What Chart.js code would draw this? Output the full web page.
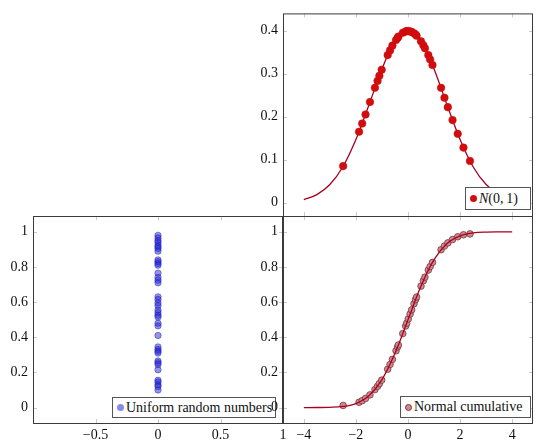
<!DOCTYPE html>
<html>
<head>
<meta charset="utf-8">
<script src="https://cdn.jsdelivr.net/npm/chart.js@4"></script>
<style>
  body { margin: 0; background: #fff; }
  #wrap { position: relative; width: 540px; height: 446px; }
  canvas { position: absolute; left: 0; top: 0; }
  .legend {
    position: absolute; background: #fff; border: 1px solid #555;
    font: 14px "Liberation Serif", serif; color: #111;
    display: flex; align-items: center; box-sizing: border-box;
    padding-left: 4px; white-space: nowrap;
  }
  .dot { display: inline-block; border-radius: 50%; margin-right: 2px; box-sizing: border-box; }
</style>
</head>
<body>
<div id="wrap">
  <canvas id="bl" width="540" height="446"></canvas>
  <div class="legend" style="left:112px;top:397px;width:164px;height:21px;">
    <span class="dot" style="width:7px;height:7px;background:rgba(40,40,210,0.55);"></span>Uniform random numbers
  </div>
  <canvas id="br" width="540" height="446"></canvas>
  <div class="legend" style="left:400px;top:396px;width:131px;height:22px;">
    <span class="dot" style="width:7px;height:7px;background:#d4868e;border:1px solid #6b3a3f;"></span>Normal cumulative
  </div>
  <canvas id="tr" width="540" height="446"></canvas>
  <div class="legend" style="left:465px;top:187px;width:66px;height:23px;">
    <span class="dot" style="width:7px;height:7px;background:#d30d0d;"></span><i>N</i>(0,&#8201;1)
  </div>
</div>
<script>
// random normal samples (x) and what is plotted for them
const sampleX = [-2.49, -1.88, -1.76, -1.63, -1.46, -1.27, -1.17, -1.10, -1.01, -0.78,
  -0.69, -0.60, -0.46, -0.40, -0.37, -0.20, -0.09, -0.05, 0.01, 0.08,
  0.14, 0.23, 0.29, 0.33, 0.50, 0.59, 0.65, 0.78, 0.85, 0.94,
  1.27, 1.40, 1.53, 1.71, 1.91, 2.13, 2.38];
const pdfY = [0.085, 0.165, 0.184, 0.205, 0.234, 0.267, 0.283, 0.295, 0.309, 0.343,
  0.354, 0.365, 0.378, 0.383, 0.386, 0.395, 0.398, 0.399, 0.399, 0.398,
  0.397, 0.394, 0.391, 0.388, 0.375, 0.366, 0.359, 0.343, 0.333, 0.320,
  0.267, 0.244, 0.222, 0.192, 0.160, 0.128, 0.097];
const cdfY = [0.012, 0.030, 0.039, 0.052, 0.072, 0.102, 0.121, 0.136, 0.156, 0.218,
  0.245, 0.274, 0.323, 0.345, 0.356, 0.421, 0.464, 0.480, 0.504, 0.532,
  0.556, 0.591, 0.614, 0.629, 0.691, 0.722, 0.742, 0.782, 0.802, 0.826,
  0.898, 0.919, 0.937, 0.956, 0.972, 0.983, 0.988];
const uniformY = [0.98, 0.965, 0.95, 0.94, 0.925, 0.915, 0.905, 0.89, 0.84, 0.83,
  0.82, 0.81, 0.765, 0.74, 0.725, 0.71, 0.63, 0.615, 0.595, 0.58,
  0.555, 0.54, 0.525, 0.515, 0.48, 0.465, 0.41, 0.345, 0.33, 0.32,
  0.31, 0.265, 0.255, 0.245, 0.215, 0.155, 0.145, 0.13, 0.12, 0.1];

// smooth curves
const curveX = [-4, -3.5, -3, -2.5, -2, -1.5, -1, -0.5, 0, 0.5, 1, 1.5, 2, 2.5, 3, 3.5, 4];
const pdfCurve = [0.0073, 0.0187, 0.0421, 0.0836, 0.1468, 0.2271, 0.3107, 0.3765, 0.399,
  0.3765, 0.3107, 0.2271, 0.1468, 0.0836, 0.0421, 0.0187, 0.0073];
const cdfCurve = [0, 0.0002, 0.0013, 0.0062, 0.0228, 0.0668, 0.1587, 0.3085, 0.5,
  0.6915, 0.8413, 0.9332, 0.9772, 0.9938, 0.9987, 0.9998, 1];

// tick labels
const topYTicks = [0, 0.1, 0.2, 0.3, 0.4];
const bottomYTicks = [0, 0.2, 0.4, 0.6, 0.8, 1];
const leftXTicks = [-0.5, 0, 0.5, 1];
const rightXTicks = [-4, -2, 0, 2, 4];

const font = { family: '"Liberation Serif", serif', size: 14 };
const fmt = (v) => {
  const s = String(Number(v.toFixed(2)));
  return v < 0 ? "\u2212" + s.slice(1) : s;
};

// pgfplots-like frame with small inward ticks on every side
const framePlugin = {
  id: "frame",
  beforeDatasetsDraw(chart) {
    const { ctx, chartArea: a } = chart;
    const xs = chart.scales.x, ys = chart.scales.y;
    ctx.save();
    ctx.strokeStyle = "#bdbdbd";
    ctx.lineWidth = 0.8;
    ctx.beginPath();
    xs.ticks.forEach((t) => {
      const p = Math.round(xs.getPixelForValue(t.value)) + 0.5;
      ctx.moveTo(p, a.bottom); ctx.lineTo(p, a.bottom - 4);
      ctx.moveTo(p, a.top); ctx.lineTo(p, a.top + 4);
    });
    ys.ticks.forEach((t) => {
      const p = Math.round(ys.getPixelForValue(t.value)) + 0.5;
      ctx.moveTo(a.left, p); ctx.lineTo(a.left + 4, p);
      ctx.moveTo(a.right, p); ctx.lineTo(a.right - 4, p);
    });
    ctx.stroke();
    ctx.restore();
  },
  afterDraw(chart) {
    const { ctx, chartArea: a } = chart;
    ctx.save();
    ctx.strokeStyle = "#3a3a3a";
    ctx.lineWidth = 1;
    ctx.strokeRect(a.left + 0.5, a.top + 0.5, a.width - 1, a.height);
    ctx.restore();
  },
};

function axis(min, max, ticks, kind, showLabels) {
  return {
    type: "linear",
    min, max,
    grid: { display: false, drawTicks: false },
    border: { display: false },
    ticks: { display: showLabels, font, color: "#111", padding: kind === "y" ? 5 : 4, callback: fmt, maxRotation: 0 },
    afterBuildTicks: (s) => { s.ticks = ticks.map((v) => ({ value: v })); },
    afterFit: (s) => {
      if (kind === "y") s.width = 30;
      else s.height = showLabels ? 20 : 0;
    },
  };
}

function makeChart(id, padding, x, y, datasets) {
  return new Chart(document.getElementById(id), {
    type: "scatter",
    data: { datasets },
    options: {
      responsive: false,
      animation: false,
      layout: { padding },
      plugins: { legend: { display: false }, tooltip: { enabled: false } },
      scales: { x, y },
    },
    plugins: [framePlugin],
  });
}

const pts = (xs, ys) => xs.map((x, i) => ({ x, y: ys[i] }));

// bottom left: uniform numbers all at x = 0
makeChart("bl", { left: 3, top: 216, right: 257, bottom: 3 },
  axis(-1, 1, leftXTicks, "x", true),
  axis(-0.088, 1.09, bottomYTicks, "y", true),
  [{
    data: uniformY.map((u) => ({ x: 0, y: u })),
    pointRadius: 3.2,
    backgroundColor: "rgba(40,40,210,0.5)",
    borderColor: "rgba(20,20,190,0.55)",
    borderWidth: 0.8,
  }]);

// bottom right: normal cumulative
makeChart("br", { left: 253, top: 216, right: 7, bottom: 3 },
  axis(-4.8, 4.8, rightXTicks, "x", true),
  axis(-0.088, 1.09, bottomYTicks, "y", true),
  [{
    type: "line",
    data: pts(curveX, cdfCurve),
    borderColor: "#a8001c",
    borderWidth: 1.3,
    pointRadius: 0,
    cubicInterpolationMode: "monotone",
    order: 0,
  }, {
    data: pts(sampleX, cdfY),
    pointRadius: 3.3,
    backgroundColor: "#d4868e",
    borderColor: "#6b3a3f",
    borderWidth: 0.8,
    order: 1,
  }]);

// top right: density with the samples on it
makeChart("tr", { left: 253, top: 8, right: 7, bottom: 230 },
  axis(-4.8, 4.8, rightXTicks, "x", false),
  axis(-0.031, 0.44, topYTicks, "y", true),
  [{
    data: pts(sampleX, pdfY),
    pointRadius: 3.8,
    backgroundColor: "#d30d0d",
    borderColor: "#c80a0a",
    borderWidth: 0.5,
    order: 0,
  }, {
    type: "line",
    data: pts(curveX, pdfCurve),
    borderColor: "#a8001c",
    borderWidth: 1.3,
    pointRadius: 0,
    cubicInterpolationMode: "monotone",
    order: 1,
  }]);
</script>
</body>
</html>
